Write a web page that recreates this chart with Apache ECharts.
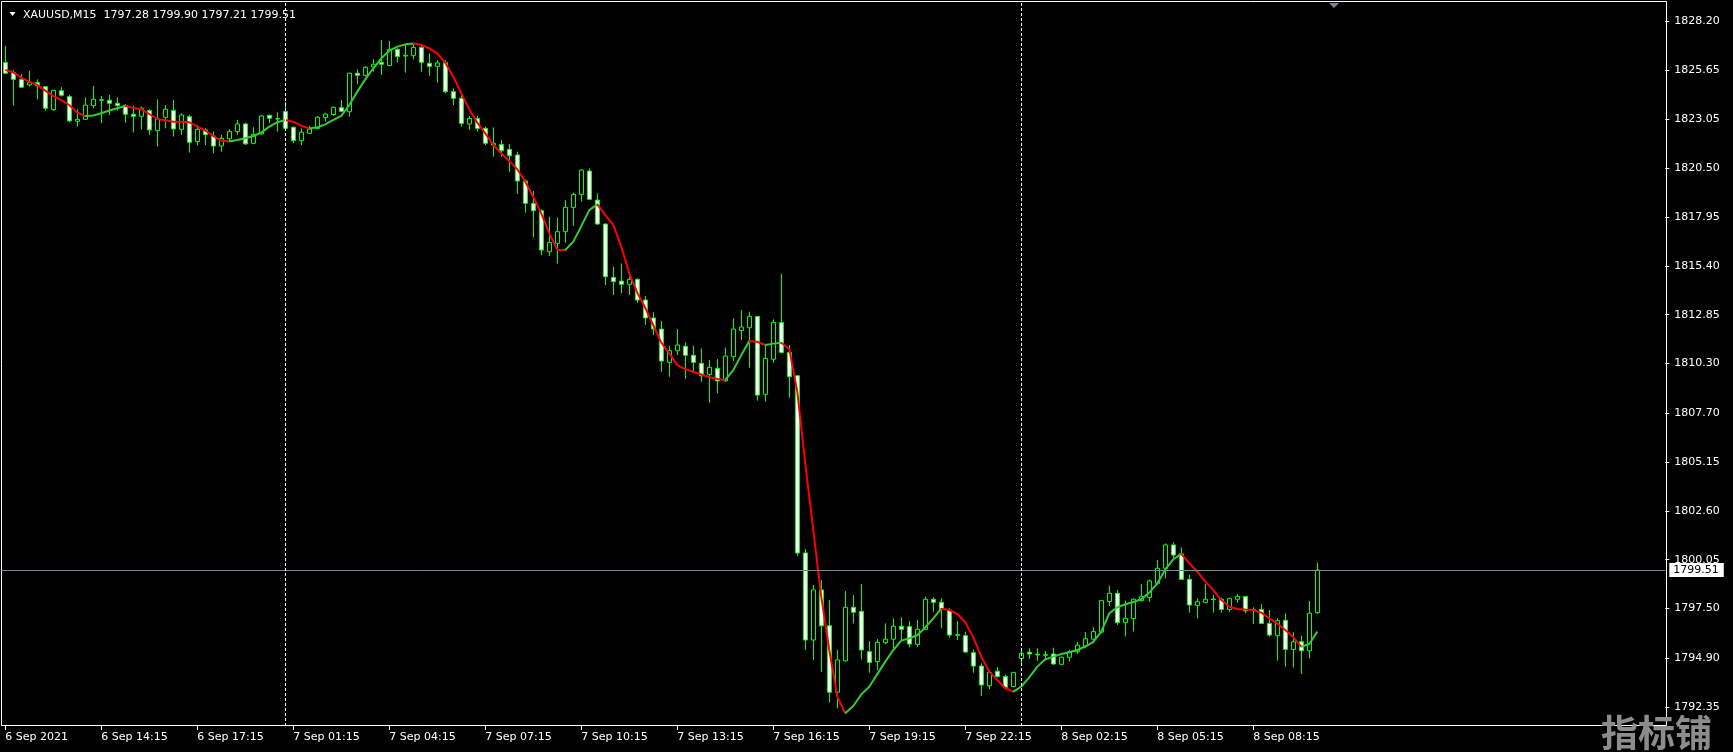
<!DOCTYPE html>
<html><head><meta charset="utf-8">
<script src="https://cdn.jsdelivr.net/npm/echarts@6/dist/echarts.min.js"></script>
<style>html,body{margin:0;padding:0;background:#000;overflow:hidden}#c{width:1733px;height:752px}</style>
</head><body><div id="c"></div>
<script>
const symbolName = 'XAUUSD,M15';
const tickLabels = ['6 Sep 2021','6 Sep 14:15','6 Sep 17:15','7 Sep 01:15','7 Sep 04:15','7 Sep 07:15','7 Sep 10:15','7 Sep 13:15','7 Sep 16:15','7 Sep 19:15','7 Sep 22:15','8 Sep 02:15','8 Sep 05:15','8 Sep 08:15'];
const priceTicks = [1828.20,1825.65,1823.05,1820.50,1817.95,1815.40,1812.85,1810.30,1807.70,1805.15,1802.60,1800.05,1797.50,1794.90,1792.35];
// sessions: [day, first bar minute-of-day, bar count]
const sessions = [['6 Sep', 675, 35], ['7 Sep', 60, 92], ['8 Sep', 60, 38]];
const separatorBars = [35, 127];
const lastPrice = 1799.51;

const opens = [1826.03,1825.50,1825.15,1824.86,1824.98,1824.77,1823.57,1824.56,1824.25,1822.96,1823.06,1823.78,1824.08,1824.06,1823.90,1823.78,1823.33,1823.22,1823.52,1822.47,
1823.17,1823.53,1822.54,1823.20,1821.90,1822.51,1822.19,1821.67,1822.04,1822.42,1822.82,1821.81,1822.30,1823.27,1823.10,1823.47,1822.65,1821.95,1822.33,1822.59,
1823.15,1823.31,1823.67,1823.46,1825.47,1825.36,1825.80,1826.04,1825.87,1826.72,1826.37,1826.39,1826.82,1825.99,1825.83,1826.02,1824.51,1824.16,1822.82,1823.11,
1822.59,1821.72,1821.75,1821.49,1821.20,1819.84,1818.67,1818.29,1816.14,1816.58,1817.19,1818.46,1819.14,1820.36,1818.84,1817.59,1814.80,1814.61,1814.44,1814.70,
1813.62,1812.68,1812.10,1810.36,1810.97,1811.20,1810.73,1810.31,1809.73,1810.05,1809.39,1810.66,1812.03,1812.17,1812.76,1808.69,1810.52,1812.45,1810.88,1809.66,
1800.40,1795.85,1798.47,1796.60,1793.12,1794.76,1797.56,1797.35,1795.24,1794.72,1795.71,1795.89,1796.57,1796.55,1795.62,1796.41,1797.98,1797.82,1797.42,1796.13,
1796.08,1795.19,1794.49,1793.46,1794.22,1793.94,1793.42,1794.88,1795.21,1795.11,1795.05,1795.12,1794.58,1794.95,1795.24,1795.54,1795.89,1796.26,1797.86,1798.29,
1796.76,1796.97,1797.91,1798.08,1798.81,1799.60,1800.82,1800.35,1799.02,1797.66,1797.82,1797.99,1797.98,1797.45,1797.98,1798.13,1797.45,1797.45,1796.72,1796.08,
1796.88,1795.36,1795.76,1795.29,1797.28];
const highs = [1826.90,1825.64,1825.43,1825.59,1825.15,1824.81,1824.60,1824.74,1824.34,1823.59,1824.21,1824.81,1824.28,1824.34,1824.21,1823.87,1823.76,1823.73,1823.59,1824.11,
1823.81,1824.07,1823.38,1823.29,1822.77,1822.59,1822.42,1822.25,1822.54,1823.03,1822.89,1822.65,1823.29,1823.31,1823.43,1823.99,1822.68,1822.59,1822.73,1823.24,
1823.41,1823.73,1824.07,1825.50,1825.67,1825.85,1826.20,1827.21,1827.16,1826.77,1826.95,1827.03,1827.00,1826.51,1826.16,1826.16,1824.68,1824.39,1823.24,1823.24,
1822.68,1822.64,1821.98,1821.77,1821.37,1819.92,1819.31,1818.36,1817.97,1817.94,1818.84,1819.23,1820.46,1820.50,1819.19,1817.62,1815.36,1815.53,1815.01,1814.75,
1813.83,1812.99,1812.52,1811.23,1812.10,1811.41,1811.23,1811.09,1810.48,1810.53,1811.14,1812.66,1813.10,1813.01,1812.78,1811.27,1812.61,1814.98,1811.27,1809.70,
1800.61,1798.73,1798.99,1797.94,1795.33,1798.41,1798.20,1798.78,1795.80,1795.90,1796.72,1796.98,1797.04,1796.84,1796.90,1798.12,1798.08,1798.03,1797.51,1796.84,
1796.29,1795.36,1794.63,1794.28,1794.43,1794.03,1794.18,1795.33,1795.42,1795.42,1795.28,1795.45,1794.98,1795.33,1795.75,1796.27,1796.52,1797.94,1798.68,1798.47,
1797.91,1798.03,1798.78,1799.02,1800.03,1800.90,1800.96,1800.69,1799.25,1798.03,1798.78,1798.20,1798.06,1798.06,1798.26,1798.15,1797.56,1797.72,1797.42,1796.98,
1797.25,1796.25,1796.08,1797.89,1799.90];
const lows = [1825.43,1823.78,1824.70,1824.77,1824.11,1823.52,1823.50,1824.25,1822.91,1822.68,1823.03,1823.64,1822.86,1823.28,1823.52,1822.89,1822.37,1822.54,1822.25,1821.64,
1822.59,1822.16,1822.25,1821.32,1821.69,1821.72,1821.29,1821.37,1821.93,1822.25,1821.72,1821.76,1822.25,1822.86,1822.42,1822.54,1821.81,1821.72,1822.30,1822.54,
1822.94,1823.24,1823.44,1823.20,1824.91,1825.29,1825.55,1825.38,1825.85,1826.04,1825.50,1826.20,1825.55,1825.34,1824.98,1824.42,1823.81,1822.68,1822.50,1822.42,
1821.72,1821.11,1821.11,1820.32,1819.16,1818.18,1816.89,1815.97,1815.92,1815.53,1816.61,1817.49,1818.76,1818.84,1817.54,1814.40,1813.88,1813.97,1813.88,1813.47,
1812.32,1811.79,1809.87,1809.61,1810.74,1809.49,1809.87,1809.35,1808.25,1808.74,1809.35,1810.43,1811.53,1810.08,1808.36,1808.31,1810.34,1810.83,1808.51,1800.24,
1795.33,1794.81,1794.18,1792.58,1792.28,1794.72,1796.72,1794.84,1794.14,1794.28,1795.63,1795.42,1795.85,1795.47,1795.50,1796.37,1797.33,1796.46,1795.97,1795.85,
1795.19,1794.14,1792.92,1793.29,1793.89,1793.33,1793.38,1794.55,1794.86,1794.76,1794.77,1794.55,1794.55,1794.72,1795.12,1795.42,1795.68,1796.20,1797.63,1796.64,
1796.03,1796.29,1797.86,1797.84,1798.73,1799.07,1800.12,1798.99,1797.28,1796.98,1797.77,1797.28,1797.28,1797.33,1797.80,1797.25,1796.69,1796.69,1796.03,1794.77,
1794.46,1794.41,1794.07,1794.89,1797.21];
const closes = [1825.47,1825.15,1824.74,1824.98,1824.81,1823.64,1824.58,1824.32,1822.98,1823.06,1823.80,1824.11,1824.06,1823.90,1823.78,1823.33,1823.22,1823.64,1822.51,1823.08,
1823.59,1822.56,1823.29,1821.86,1822.54,1822.26,1821.67,1822.07,1822.42,1822.82,1821.78,1822.28,1823.24,1823.12,1823.08,1822.59,1821.95,1822.39,1822.56,1823.17,
1823.34,1823.69,1823.48,1825.47,1825.36,1825.78,1825.94,1825.94,1826.72,1826.34,1826.41,1826.82,1826.04,1825.83,1826.01,1824.51,1824.16,1822.85,1823.11,1822.59,
1821.81,1821.81,1821.42,1821.16,1819.84,1818.67,1818.29,1816.23,1816.63,1817.19,1818.46,1819.14,1820.41,1818.88,1817.59,1814.84,1814.58,1814.44,1814.70,1813.62,
1812.68,1812.11,1810.43,1810.97,1811.27,1810.73,1810.36,1809.66,1810.10,1809.39,1810.69,1812.10,1812.21,1812.76,1808.65,1810.57,1812.45,1810.88,1809.61,1800.40,
1795.85,1798.47,1796.59,1793.12,1794.81,1797.56,1797.30,1795.33,1794.68,1795.73,1795.89,1796.57,1796.41,1795.64,1796.41,1797.98,1797.82,1797.45,1796.11,1796.10,
1795.22,1794.49,1793.50,1794.16,1793.94,1793.38,1794.16,1795.16,1795.12,1795.07,1795.09,1794.60,1794.95,1795.24,1795.58,1795.92,1796.29,1797.91,1798.29,1796.76,
1796.99,1797.98,1798.12,1798.94,1799.60,1800.82,1800.29,1799.02,1797.68,1797.85,1797.98,1797.96,1797.45,1798.03,1798.13,1797.37,1797.42,1796.72,1796.11,1796.86,
1795.36,1795.76,1795.29,1797.25,1799.51];
const maValues = [1825.64,1825.52,1825.24,1825.03,1824.86,1824.56,1824.28,1824.07,1823.81,1823.41,1823.23,1823.26,1823.38,1823.52,1823.64,1823.76,1823.66,1823.59,1823.34,1823.08,
1823.01,1822.94,1822.93,1822.91,1822.68,1822.47,1822.19,1821.95,1821.90,1821.98,1822.07,1822.19,1822.37,1822.68,1822.91,1823.03,1822.94,1822.73,1822.59,1822.65,
1822.80,1823.03,1823.24,1823.81,1824.51,1825.15,1825.73,1826.25,1826.65,1826.86,1826.98,1827.02,1826.96,1826.77,1826.51,1826.02,1825.29,1824.42,1823.58,1822.89,
1822.33,1821.72,1821.28,1820.88,1820.45,1819.80,1819.02,1818.15,1817.10,1816.25,1816.23,1816.67,1817.48,1818.32,1818.62,1818.06,1817.54,1816.40,1815.01,1814.00,
1813.20,1812.30,1811.39,1810.83,1810.22,1810.01,1809.87,1809.73,1809.59,1809.49,1809.44,1809.96,1810.74,1811.48,1811.44,1811.27,1811.34,1811.39,1811.06,1808.83,
1805.05,1801.60,1798.10,1795.33,1792.89,1792.02,1792.40,1793.01,1793.41,1794.07,1794.72,1795.33,1795.82,1795.94,1796.10,1796.51,1796.98,1797.49,1797.42,1797.21,
1796.78,1795.99,1794.98,1794.20,1793.76,1793.33,1793.15,1793.42,1793.90,1794.46,1794.84,1794.98,1795.12,1795.21,1795.33,1795.51,1795.75,1796.29,1797.25,1797.56,
1797.72,1797.84,1797.98,1798.33,1798.81,1799.54,1800.07,1800.35,1799.86,1799.42,1798.90,1798.46,1797.94,1797.59,1797.47,1797.44,1797.42,1797.28,1796.98,1796.72,
1796.37,1795.99,1795.50,1795.64,1796.29];

const GREEN_MA = '#32cd32', RED_MA = '#ff0000', CANDLE = '#00ff00';
const pad2 = n => String(n).padStart(2, '0');
const categories = [];
sessions.forEach(([d, start, n]) => {
  for (let k = 0; k < n; k++) { const m = start + 15 * k; categories.push(d + ' ' + pad2(Math.floor(m / 60)) + ':' + pad2(m % 60)); }
});
const TOTAL_SLOTS = 208;
const axisCats = categories.concat(Array.from({length: TOTAL_SLOTS - categories.length}, (_, i) => ' ' + i));
const candleData = categories.map((_, i) => [opens[i], closes[i], lows[i], highs[i]]);

const pieces = [];
let runStart = 0, runUp = maValues[1] > maValues[0];
for (let i = 2; i < maValues.length; i++) {
  const up = maValues[i] > maValues[i - 1];
  if (up !== runUp) { pieces.push({gte: runStart, lt: i - 1, color: runUp ? GREEN_MA : RED_MA}); runStart = i - 1; runUp = up; }
}
pieces.push({gte: runStart, lte: TOTAL_SLOTS, color: runUp ? GREEN_MA : RED_MA});

const last = categories.length - 1;
const headerText = symbolName + '  ' + [opens[last], highs[last], lows[last], closes[last]].map(v => v.toFixed(2)).join(' ');
const showTick = i => i % 12 === 0 && i < categories.length;
const FONT = 'DejaVu Sans';

const chart = echarts.init(document.getElementById('c'));
chart.setOption({
  backgroundColor: '#000',
  animation: false,
  grid: {left: 1.3, right: 67.7, top: 2, bottom: 26, containLabel: false},
  xAxis: {
    type: 'category', data: axisCats, boundaryGap: true,
    axisLine: {show: false},
    axisTick: {show: true, alignWithLabel: true, interval: showTick, length: 4, lineStyle: {color: '#fff'}},
    axisLabel: {interval: showTick, formatter: (v, i) => tickLabels[i / 12] || '', color: '#fff', fontFamily: FONT, fontSize: 11, align: 'left', margin: 6},
    splitLine: {show: false}
  },
  yAxis: {
    type: 'value', position: 'right', min: 1791.357, max: 1829.194,
    axisLine: {show: false},
    axisTick: {show: true, customValues: priceTicks, length: 4, lineStyle: {color: '#fff'}},
    axisLabel: {customValues: priceTicks, formatter: v => v.toFixed(2), color: '#fff', fontFamily: FONT, fontSize: 11, margin: 9},
    splitLine: {show: false}
  },
  visualMap: {show: false, type: 'piecewise', seriesIndex: 1, dimension: 0, pieces: pieces, outOfRange: {color: GREEN_MA}},
  series: [
    {
      type: 'candlestick', data: candleData, barWidth: 4, silent: true,
      itemStyle: {color: '#000', color0: '#fff', borderColor: CANDLE, borderColor0: CANDLE, borderColorDoji: CANDLE, borderWidth: 1},
      markLine: {
        silent: true, symbol: ['none', 'none'], animation: false,
        data: [
          {yAxis: lastPrice, lineStyle: {color: '#778899', width: 1, type: 'solid'},
           label: {show: true, position: 'end', formatter: lastPrice.toFixed(2), color: '#000', backgroundColor: '#fff', padding: [2, 5, 1, 4], fontFamily: FONT, fontSize: 11, distance: 4}}
        ].concat(separatorBars.map(b => ({xAxis: categories[b], lineStyle: {color: '#fff', width: 1, type: [3, 2]}, label: {show: false}})))
      }
    },
    {type: 'line', data: maValues, symbol: 'none', showSymbol: false, lineStyle: {width: 2}, silent: true, z: 3}
  ],
  graphic: [
    {type: 'rect', silent: true, z: 1, shape: {x: 1.5, y: 1.5, width: 1665, height: 724}, style: {fill: 'none', stroke: '#fff', lineWidth: 1}},
    {type: 'polygon', silent: true, shape: {points: [[9.5, 12], [15.5, 12], [12.5, 16]]}, style: {fill: '#fff'}},
    {type: 'text', silent: true, x: 23, y: 15, style: {text: headerText, fill: '#fff', font: '11px "DejaVu Sans"', textVerticalAlign: 'middle'}},
    {type: 'polygon', silent: true, shape: {points: [[1329, 3], [1339, 3], [1334, 8]]}, style: {fill: '#778899'}},
    {type: 'text', silent: true, z: 100, x: 1601, y: 733, style: {text: '指标铺', fill: '#8c8c8c', font: 'bold 37px "Noto Sans CJK SC"', textVerticalAlign: 'middle'}}
  ]
});
</script>
</body></html>
